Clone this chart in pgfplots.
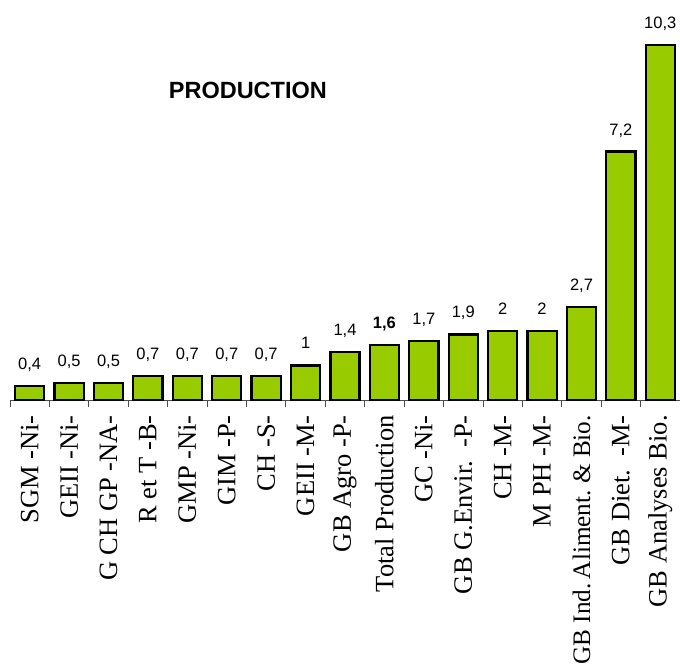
\documentclass[border=0pt]{standalone}
\usepackage{pgfplots}
\pgfplotsset{compat=1.18}
\usepackage{fontspec}
\setmainfont{Liberation Serif}
\newfontfamily\arial{Liberation Sans}
\definecolor{barG}{HTML}{99CC00}
\begin{document}
\frenchspacing
\begin{tikzpicture}
\useasboundingbox (-10pt,-271pt) rectangle (670pt,400pt);
\begin{axis}[
  at={(0,0)}, anchor=south west,
  scale only axis,
  width=670pt, height=396.75pt,
  xmin=-0.5, xmax=16.5,
  ymin=0, ymax=11.5,
  clip=false,
  hide y axis,
  axis x line*=bottom,
  x axis line style={-, black!70, line width=0.8pt},
  xtick={0,...,16},
  minor xtick={-0.5,0.5,...,16.5},
  major tick length=0pt,
  minor tick length=7pt,
  tick align=outside,
  xtick style={black!70, line width=0.8pt},
  xticklabels={SGM -Ni-, GEII -Ni-, G CH GP -NA-, R et T -B-, GMP -Ni-, GIM -P-, CH -S-, GEII -M-, GB Agro -P-, Total Production, GC -Ni-, GB G.Envir.~~-P-, CH -M-, M PH -M-, {\fontsize{25.2}{30}\selectfont GB Ind.\,Aliment.\ \& Bio.}, GB Diet.~~-M-, GB Analyses Bio.},
  xticklabel style={rotate=90, anchor=east, font=\fontsize{26.5}{30}\selectfont, inner sep=0pt, xshift=-1pt},
  xticklabel shift=14pt,
  title={PRODUCTION},
  title style={at={(axis description cs:0.355,0.766)}, anchor=center, font=\arial\bfseries\fontsize{23.5}{27}\selectfont},
]
\addplot[ybar, bar width=0.74, fill=barG, draw=black, line width=2.2pt,
  point meta=explicit symbolic,
  nodes near coords,
  every node near coord/.append style={anchor=base, inner sep=0pt, yshift=16.5pt, font=\arial\fontsize{16.5}{19}\selectfont, black, line width=0pt}]
coordinates {
(0,0.4) [0,4]
(1,0.5) [0,5]
(2,0.5) [0,5]
(3,0.7) [0,7]
(4,0.7) [0,7]
(5,0.7) [0,7]
(6,0.7) [0,7]
(7,1.0) [1]
(8,1.4) [1,4]
(9,1.6) [\textbf{1,6}]
(10,1.7) [1,7]
(11,1.9) [1,9]
(12,2.0) [2]
(13,2.0) [2]
(14,2.7) [2,7]
(15,7.2) [7,2]
(16,10.3) [10,3]
};
\end{axis}
\end{tikzpicture}
\end{document}
